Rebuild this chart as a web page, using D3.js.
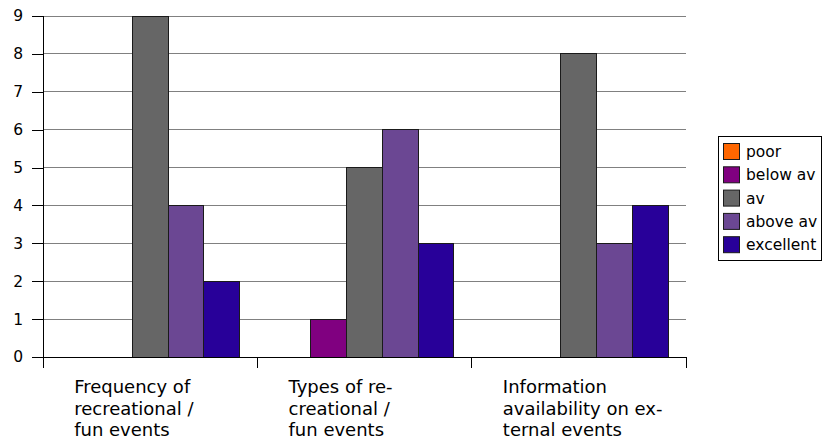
<!DOCTYPE html>
<html><head><meta charset="utf-8">
<script src="https://cdn.jsdelivr.net/npm/d3@7"></script>
<style>body{margin:0;background:#fff}svg{display:block}text{font-family:"DejaVu Sans",sans-serif;fill:#000}</style>
</head><body><svg id="c" width="822" height="441"></svg>
<script>
const categories = ["Frequency of recreational / fun events","Types of recreational / fun events","Information availability on external events"];
const categoryLines = [["Frequency of","recreational /","fun events"],["Types of re-","creational /","fun events"],["Information","availability on ex-","ternal events"]];
const seriesNames = ["poor","below av","av","above av","excellent"];
const seriesColors = ["#ff6600","#800080","#666666","#6b4793","#280099"];
const poor = [0,0,0];
const belowAv = [0,1,0];
const av = [9,5,8];
const aboveAv = [4,6,3];
const excellent = [2,3,4];
const seriesValues = [poor, belowAv, av, aboveAv, excellent];
const yTicks = [0,1,2,3,4,5,6,7,8,9];

const svg = d3.select("#c");
const L=43,R=686,T=16,B=357;
const x = d3.scaleBand().domain(categories).range([L,R]).padding(0);
const xs = d3.scaleBand().domain(seriesNames).range([0,x.bandwidth()]).paddingInner(0).paddingOuter(0.5);
const y = d3.scaleLinear().domain([0,9]).range([B,T]);

// gridlines
svg.append("g").selectAll("line").data(yTicks.filter(d=>d>0)).join("line")
  .attr("x1",L).attr("x2",R).attr("y1",d=>y(d)).attr("y2",d=>y(d))
  .attr("stroke","#808080").attr("stroke-width",1).attr("shape-rendering","crispEdges");

// bars
const rows=[];
categories.forEach((c,i)=>seriesNames.forEach((s,j)=>rows.push({c,s,j,v:seriesValues[j][i]})));
svg.append("g").selectAll("rect").data(rows.filter(d=>d.v>0)).join("rect")
  .attr("x",d=>x(d.c)+xs(d.s)).attr("width",xs.bandwidth())
  .attr("y",d=>y(d.v)).attr("height",d=>y(0)-y(d.v))
  .attr("fill",d=>seriesColors[d.j]).attr("stroke","#1a1a1a").attr("stroke-width",1)
  .attr("shape-rendering","crispEdges");

// y axis
const ya = svg.append("g").attr("transform",`translate(${L},0)`)
  .call(d3.axisLeft(y).tickValues(yTicks).tickSize(11).tickPadding(9).tickFormat(d3.format("d")));
ya.select(".domain").remove();
ya.selectAll(".tick line").attr("stroke","#000").attr("shape-rendering","crispEdges");
ya.selectAll("text").attr("font-size","15.5px").attr("font-family","DejaVu Sans");

// axis lines
svg.append("line").attr("x1",L).attr("x2",L).attr("y1",T).attr("y2",B+11).attr("stroke","#000").attr("shape-rendering","crispEdges");
svg.append("line").attr("x1",L).attr("x2",R).attr("y1",B).attr("y2",B).attr("stroke","#000").attr("shape-rendering","crispEdges");
// x ticks at category boundaries
const bounds = categories.map(c=>x(c)).concat([x(categories[categories.length-1])+x.bandwidth()]);
svg.append("g").selectAll("line").data(bounds.slice(1)).join("line")
  .attr("x1",d=>d).attr("x2",d=>d).attr("y1",B).attr("y2",B+11)
  .attr("stroke","#000").attr("shape-rendering","crispEdges");

// category labels
categories.forEach((c,i)=>{
  const cx = x(c)+x.bandwidth()/2;
  const t = svg.append("text").attr("font-size","18px").attr("x",cx-76).attr("y",393);
  categoryLines[i].forEach((ln,k)=>t.append("tspan").attr("x",cx-76).attr("dy",k?21.5:0).text(ln));
});

// legend
const lg = svg.append("g").attr("transform","translate(718,136)");
lg.append("rect").attr("x",0.5).attr("y",0.5).attr("width",103).attr("height",124)
  .attr("fill","#fff").attr("stroke","#000").attr("stroke-width",1);
seriesNames.forEach((s,j)=>{
  const g = lg.append("g").attr("transform",`translate(5,${7+j*23.3})`);
  g.append("rect").attr("x",0.5).attr("y",0.5).attr("width",16).attr("height",16)
    .attr("fill",seriesColors[j]).attr("stroke","#1a1a1a");
  g.append("text").attr("x",23).attr("y",14).attr("font-size","15.5px").text(s);
});
</script></body></html>
